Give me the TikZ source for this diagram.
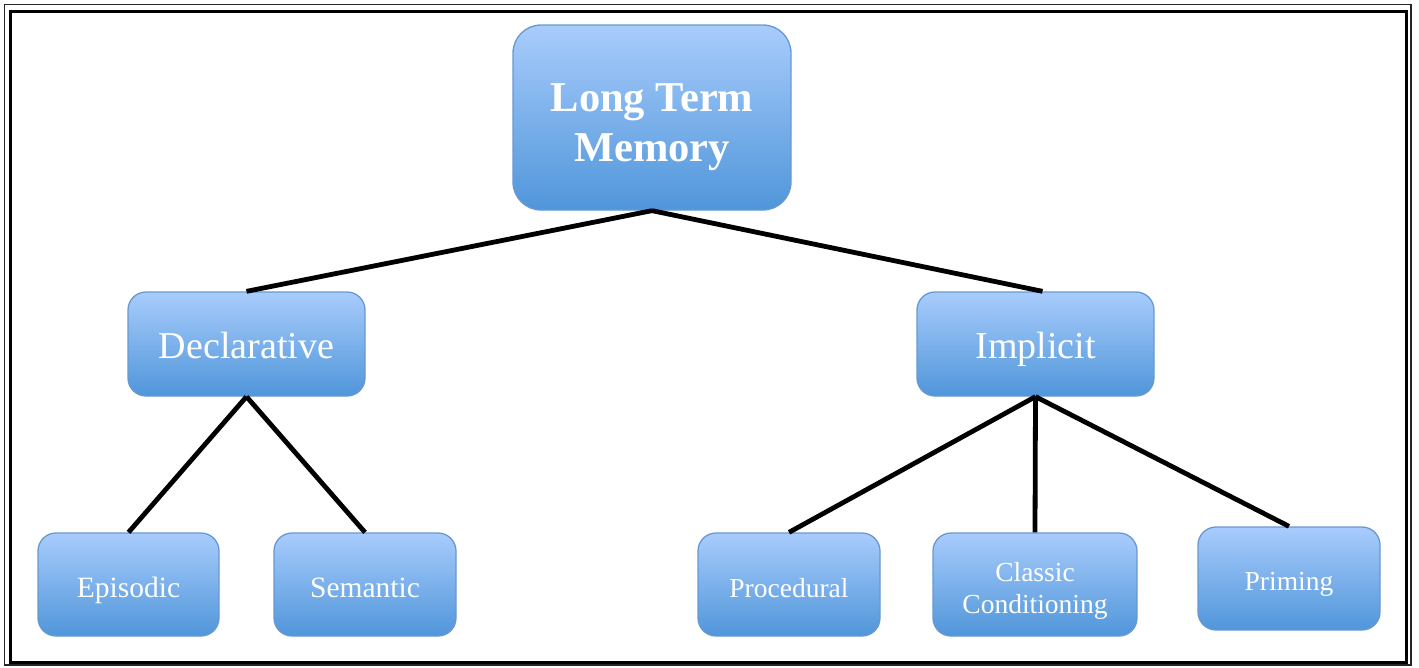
\documentclass[tikz,border=0pt]{standalone}
\usepackage{fontspec}
\setmainfont{Liberation Serif}
\definecolor{boxtop}{RGB}{168,204,252}
\definecolor{boxbot}{RGB}{80,150,218}
\definecolor{boxedge}{RGB}{105,152,208}
\begin{document}
\begin{tikzpicture}[x=1pt,y=-1pt,
  memb/.style={rectangle, rounded corners=18pt, draw=boxedge, line width=1.3pt,
    top color=boxtop, bottom color=boxbot, text=white, align=center, inner sep=0pt,
    text depth=0pt},
  txt/.style={text=white, align=center, inner sep=0pt},
  link/.style={line width=4.8pt, black}]
\useasboundingbox (0,0) rectangle (1419,667);
\draw[line width=1.6pt, black!85] (4.5,4.5) rectangle (1411,665);
\draw[line width=3pt] (10.5,11) rectangle (1406,662);

\node[memb, rounded corners=28pt, minimum width=278pt, minimum height=185pt] (ltm) at (652,117.5) {};
\node[txt, font=\fontsize{42.5}{50}\selectfont\bfseries] (ltmtext) at ([yshift=-9.5pt]ltm.center) {Long Term\\Memory};
\node[memb, minimum width=237pt, minimum height=104pt, text height=29.4pt,
  font=\fontsize{38}{42}\selectfont] (decl) at (246.5,344) {Declarative};
\node[memb, minimum width=237pt, minimum height=104pt, text height=29.4pt,
  font=\fontsize{38}{42}\selectfont] (impl) at (1035.5,344) {Implicit};
\node[memb, minimum width=181pt, minimum height=103pt, text height=25pt,
  font=\fontsize{29.5}{32}\selectfont] (epi) at (128.5,584.5) {Episodic};
\node[memb, minimum width=182pt, minimum height=103pt, text height=25pt,
  font=\fontsize{29.5}{32}\selectfont] (sem) at (365,584.5) {Semantic};
\node[memb, minimum width=182pt, minimum height=103pt, text height=25pt,
  font=\fontsize{27.5}{32}\selectfont] (proc) at (789,584.5) {Procedural};
\node[memb, minimum width=204pt, minimum height=103pt] (cc) at (1035,584.5) {};
\node[txt, font=\fontsize{27.5}{31.7}\selectfont] (cctext) at ([yshift=-6.5pt]cc.center) {Classic\\Conditioning};
\node[memb, minimum width=182pt, minimum height=103pt, text height=23.6pt,
  font=\fontsize{27.5}{32}\selectfont] (prim) at (1289,578.5) {Priming};

\draw[link] (ltm.south) -- (decl.north);
\draw[link] (ltm.south) -- ([xshift=7pt]impl.north);
\draw[link] (decl.south) -- (epi.north);
\draw[link] (decl.south) -- (sem.north);
\draw[link] (impl.south) -- (proc.north);
\draw[link] (impl.south) -- (cc.north);
\draw[link] (impl.south) -- (prim.north);
\end{tikzpicture}
\end{document}
